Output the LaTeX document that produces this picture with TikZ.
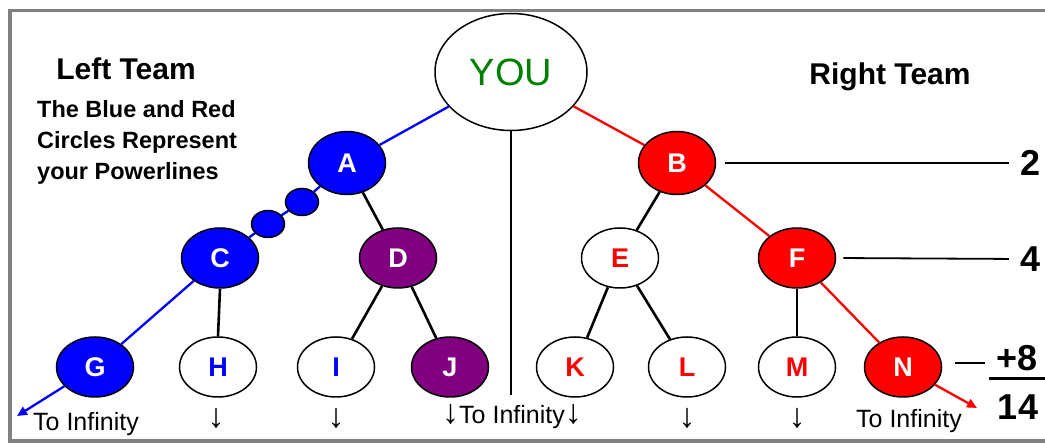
\documentclass[tikz,border=0pt]{standalone}
\usepackage{fontspec}
\setmainfont{Liberation Sans}
\usepackage{tikz}
\usetikzlibrary{arrows.meta,shapes.geometric,calc}

\definecolor{lineblue}{RGB}{0,0,255}
\definecolor{linered}{RGB}{255,0,0}
\definecolor{teampurple}{RGB}{128,0,128}
\definecolor{yougreen}{RGB}{0,128,0}
\definecolor{framegray}{RGB}{128,128,128}

\newcommand{\downarr}{{\fontsize{34}{34}\selectfont ↓}}

\tikzset{
  member/.style={ellipse, draw=black, line width=1.5pt, minimum width=77pt,
    minimum height=60pt, inner sep=0pt, font=\fontsize{27}{27}\selectfont\bfseries},
  bluemember/.style={member, fill=lineblue, text=white},
  redmember/.style={member, fill=linered, text=white},
  purplemember/.style={member, fill=teampurple, text=white},
  openblue/.style={member, fill=white, text=lineblue},
  openred/.style={member, fill=white, text=linered},
  spillover/.style={ellipse, draw=black, line width=1.5pt, fill=lineblue,
    minimum width=33pt, minimum height=27pt, inner sep=0pt},
  link/.style={black, line width=2.6pt},
  blueline/.style={lineblue, line width=2.3pt},
  redline/.style={linered, line width=2.3pt},
  rule/.style={black, line width=1.8pt},
  infty/.style={font=\fontsize{25}{25}\selectfont},
  score/.style={font=\fontsize{36}{36}\selectfont\bfseries, inner sep=0pt}
}

\begin{document}
\begin{tikzpicture}[x=1pt, y=-1pt]
\useasboundingbox (0,0) rectangle (1045,443);
\draw[framegray, line width=3.5pt] (1045,10.5) -- (10,10.5) -- (10,441) -- (1045,441);

% Titles
\node[font=\fontsize{30}{30}\selectfont\bfseries] (lefttitle) at (126,69) {Left Team};
\node[font=\fontsize{23.5}{31}\selectfont\bfseries, align=left, anchor=west, inner sep=0pt] (legend) at (37,142)
  {The Blue and Red\\Circles Represent\\your Powerlines};
\node[font=\fontsize{30}{30}\selectfont\bfseries] (righttitle) at (890,77) {Right Team};

% Top
\node[ellipse, draw=black, line width=1.5pt, minimum width=152pt, minimum height=117pt,
  inner sep=0pt, text=yougreen, font=\fontsize{38}{38}\selectfont] (you) at (511,72) {YOU};

% Level 1
\node[bluemember, minimum height=63pt] (A) at (347,163) {A};
\node[redmember, minimum height=63pt] (B) at (677,163) {B};
\node[spillover] (s1) at (302,202) {};
\node[spillover] (s2) at (268,224) {};

% Level 2
\node[bluemember] (C) at (220,258) {C};
\node[purplemember] (D) at (398,258) {D};
\node[openred] (E) at (620,258) {E};
\node[redmember] (F) at (797,258) {F};

% Level 3
\node[bluemember] (G) at (95,367) {G};
\node[openblue] (H) at (218,367) {H};
\node[openblue] (I) at (336,367) {I};
\node[purplemember] (J) at (450,367) {J};
\node[openred] (K) at (575,367) {K};
\node[openred] (L) at (687,367) {L};
\node[openred] (M) at (797,367) {M};
\node[redmember] (N) at (903,367) {N};

% Powerlines
\coordinate (gtip) at (17,416);
\coordinate (ntip) at (977,408);
\coordinate (youend) at (511,395);
\draw[blueline] (you) -- (A);
\draw[blueline] (A) -- (s1);
\draw[blueline] (s1) -- (s2);
\draw[blueline] (s2) -- (C);
\draw[blueline] (C) -- (G);
\draw[blueline, -{Triangle[length=10pt, width=9pt]}] (G) -- (gtip);
\draw[redline] (you) -- (B);
\draw[redline] (B) -- (F);
\draw[redline] (F) -- (N);
\draw[redline, -{Triangle[length=10pt, width=9pt]}] (N) -- (ntip);

% Other legs
\draw[link, line width=1.7pt] (you.south) -- (youend);
\draw[link] (A) -- (D);
\draw[link] (C.south) -- (H.north);
\draw[link] (D) -- (I);
\draw[link] (D) -- (J);
\draw[link] (B) -- (E);
\draw[link] (E) -- (K);
\draw[link] (E) -- (L);
\draw[link] (F.south) -- (M.north);

% Count
\node[score] (two) at (1031,163) {2};
\node[score] (four) at (1031,259) {4};
\node[score] (eight) at (1017,358) {+8};
\node[score] (total) at (1018,407) {14};
\coordinate (eightline) at (985,363);
\coordinate (fracleft) at (989,379);
\coordinate (fracright) at (1045,379);
\draw[rule, shorten <=9pt, shorten >=12pt] (B.east) -- (two.west);
\draw[rule, shorten <=7pt, shorten >=12pt] (F.east) -- (four.west);
\draw[rule, shorten <=13pt] (N.east |- eightline) -- (eightline);
\draw[rule, line width=3pt] (fracleft) -- (fracright);

% Bottom
\node[infty] (inf1) at (86,424) {To Infinity};
\node[infty] (inf2) at (512,417) {\downarr To Infinity\downarr};
\node[infty] (inf3) at (909,421) {To Infinity};
\foreach \x in {216,336,687,797}
  \node[infty] at (\x,418) {\downarr};
\end{tikzpicture}
\end{document}
